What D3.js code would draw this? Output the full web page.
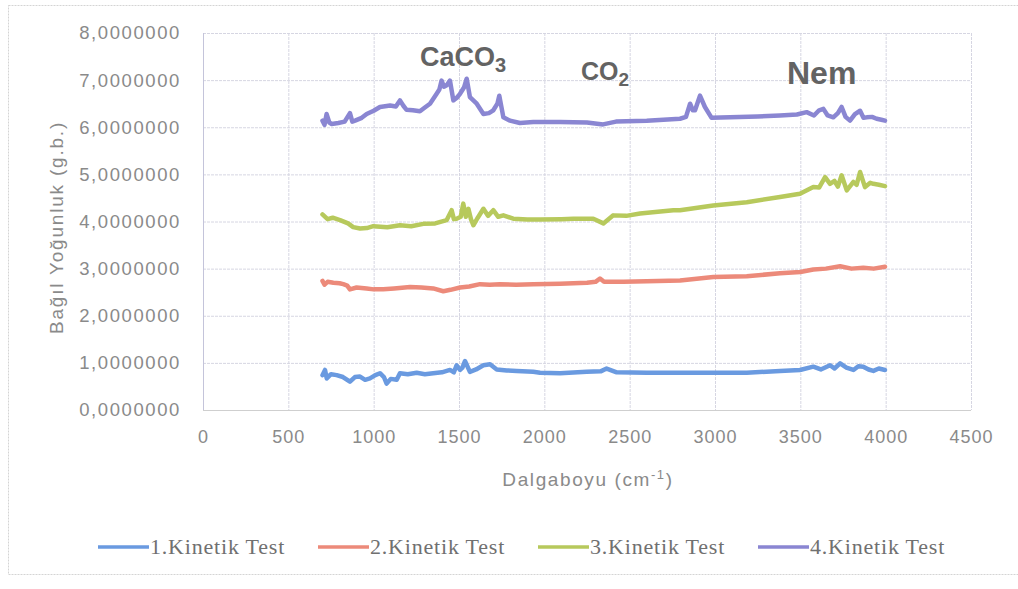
<!DOCTYPE html>
<html>
<head>
<meta charset="utf-8">
<script src="https://cdn.jsdelivr.net/npm/d3@7/dist/d3.min.js"></script>
<style>
  html, body { margin: 0; padding: 0; background: #ffffff; }
  svg { display: block; }
</style>
</head>
<body>
<svg id="chart" width="1018" height="589"></svg>
<script>
// ---- Data ----
const seriesNames = ["1.Kinetik Test", "2.Kinetik Test", "3.Kinetik Test", "4.Kinetik Test"];
const seriesColors = ["#6a9ae0", "#ec8a7a", "#b7c95c", "#8a86d2"];

const xTicks = [0, 500, 1000, 1500, 2000, 2500, 3000, 3500, 4000, 4500];
const yTicks = [0, 1, 2, 3, 4, 5, 6, 7, 8];

// [wavenumber, value]
const test1 = [
  [700, 0.74], [715, 0.85], [725, 0.67], [750, 0.76], [783, 0.74], [820, 0.70], [861, 0.60],
  [890, 0.70], [920, 0.71], [950, 0.64], [978, 0.67], [1010, 0.74], [1037, 0.78], [1060, 0.70],
  [1076, 0.56], [1100, 0.66], [1135, 0.64], [1154, 0.78], [1200, 0.76], [1252, 0.79], [1300, 0.76],
  [1349, 0.78], [1400, 0.80], [1447, 0.85], [1470, 0.80], [1486, 0.95], [1506, 0.85], [1520, 0.90],
  [1535, 1.04], [1564, 0.81], [1600, 0.86], [1643, 0.95], [1682, 0.97], [1721, 0.86], [1780, 0.84],
  [1838, 0.83], [1935, 0.81], [1975, 0.79], [2092, 0.78], [2248, 0.81], [2330, 0.82], [2365, 0.88],
  [2424, 0.80], [2600, 0.79], [2795, 0.79], [2990, 0.79], [3186, 0.79], [3381, 0.83], [3498, 0.85],
  [3576, 0.92], [3620, 0.86], [3674, 0.95], [3700, 0.88], [3733, 0.99], [3770, 0.90], [3811, 0.85],
  [3840, 0.93], [3869, 0.92], [3900, 0.86], [3928, 0.83], [3960, 0.88], [3996, 0.85]
];
const test2 = [
  [700, 2.74], [712, 2.66], [730, 2.72], [764, 2.70], [800, 2.69], [822, 2.67], [845, 2.64],
  [861, 2.56], [900, 2.60], [959, 2.58], [1000, 2.56], [1056, 2.56], [1120, 2.58], [1213, 2.61],
  [1280, 2.60], [1349, 2.58], [1408, 2.52], [1450, 2.55], [1506, 2.60], [1560, 2.62], [1623, 2.67],
  [1680, 2.66], [1740, 2.67], [1835, 2.66], [1935, 2.67], [2092, 2.68], [2250, 2.70], [2300, 2.72],
  [2326, 2.79], [2350, 2.72], [2463, 2.72], [2600, 2.73], [2795, 2.75], [2990, 2.82], [3186, 2.84],
  [3381, 2.90], [3500, 2.93], [3576, 2.98], [3650, 3.00], [3733, 3.05], [3800, 3.00], [3869, 3.02],
  [3930, 3.00], [3996, 3.04]
];
const test3 = [
  [700, 4.15], [730, 4.05], [760, 4.08], [803, 4.03], [850, 3.96], [880, 3.88], [920, 3.85],
  [960, 3.86], [998, 3.90], [1080, 3.88], [1154, 3.92], [1220, 3.90], [1291, 3.95], [1360, 3.96],
  [1428, 4.03], [1457, 4.24], [1470, 4.05], [1486, 4.06], [1510, 4.10], [1525, 4.38], [1540, 4.10],
  [1555, 4.27], [1570, 4.05], [1584, 3.92], [1610, 4.08], [1643, 4.27], [1670, 4.12], [1701, 4.24],
  [1730, 4.10], [1760, 4.13], [1818, 4.06], [1900, 4.04], [1975, 4.04], [2100, 4.05], [2170, 4.06],
  [2287, 4.06], [2346, 3.96], [2404, 4.13], [2480, 4.12], [2561, 4.17], [2650, 4.20], [2756, 4.24],
  [2795, 4.24], [2990, 4.34], [3186, 4.41], [3381, 4.52], [3498, 4.59], [3576, 4.73], [3610, 4.72],
  [3645, 4.94], [3674, 4.80], [3700, 4.86], [3720, 4.74], [3742, 4.98], [3772, 4.66], [3811, 4.84],
  [3830, 4.78], [3850, 5.05], [3879, 4.73], [3910, 4.82], [3928, 4.80], [3960, 4.78], [3996, 4.75]
];
const test4 = [
  [700, 6.14], [712, 6.05], [724, 6.28], [740, 6.10], [754, 6.07], [793, 6.09], [830, 6.12],
  [861, 6.30], [875, 6.12], [891, 6.14], [930, 6.20], [959, 6.28], [1000, 6.35], [1037, 6.43],
  [1096, 6.46], [1130, 6.44], [1154, 6.57], [1175, 6.45], [1193, 6.37], [1230, 6.36], [1271, 6.34],
  [1300, 6.42], [1330, 6.50], [1369, 6.71], [1385, 6.80], [1398, 6.99], [1412, 6.86], [1428, 6.89],
  [1447, 6.99], [1467, 6.57], [1486, 6.62], [1506, 6.71], [1530, 6.85], [1545, 7.03], [1564, 6.64],
  [1604, 6.50], [1643, 6.28], [1675, 6.30], [1701, 6.36], [1725, 6.50], [1736, 6.67], [1760, 6.21],
  [1799, 6.14], [1857, 6.09], [1935, 6.11], [2092, 6.11], [2250, 6.10], [2344, 6.06], [2420, 6.12],
  [2600, 6.14], [2795, 6.18], [2830, 6.22], [2854, 6.50], [2870, 6.36], [2883, 6.36], [2912, 6.67],
  [2941, 6.43], [2980, 6.20], [3088, 6.21], [3250, 6.23], [3381, 6.25], [3480, 6.27], [3537, 6.32],
  [3580, 6.25], [3610, 6.36], [3635, 6.39], [3660, 6.25], [3693, 6.21], [3720, 6.30], [3742, 6.43],
  [3765, 6.22], [3791, 6.14], [3820, 6.28], [3850, 6.35], [3870, 6.20], [3889, 6.21], [3920, 6.22],
  [3947, 6.18], [3975, 6.16], [3996, 6.14]
];
const seriesData = [test1, test2, test3, test4];

// ---- Layout ----
const svg = d3.select("#chart");
const plotL = 203, plotR = 971, plotT = 33, plotB = 410;

const x = d3.scaleLinear().domain([0, 4500]).range([plotL, plotR]);
const y = d3.scaleLinear().domain([0, 8]).range([plotB, plotT]);

// outer chart border
svg.append("rect")
  .attr("x", 8.5).attr("y", 5.5).attr("width", 1020).attr("height", 569)
  .attr("fill", "none").attr("stroke", "#d4d4d4").attr("stroke-width", 1)
  .attr("stroke-dasharray", "2,1");

// gridlines
const grid = svg.append("g");
grid.selectAll("line.h").data(yTicks).join("line")
  .attr("x1", plotL).attr("x2", plotR)
  .attr("y1", d => y(d) + 0.5).attr("y2", d => y(d) + 0.5)
  .attr("stroke", "#d6d6e2").attr("stroke-width", 1).attr("stroke-dasharray", "3,1");
grid.selectAll("line.v").data(xTicks).join("line")
  .attr("y1", plotT).attr("y2", plotB)
  .attr("x1", d => x(d) + 0.5).attr("x2", d => x(d) + 0.5)
  .attr("stroke", "#d6d6e2").attr("stroke-width", 1).attr("stroke-dasharray", "3,1");

// axes lines
svg.append("line").attr("x1", plotL + 0.5).attr("x2", plotL + 0.5).attr("y1", plotT).attr("y2", plotB)
  .attr("stroke", "#c4c4da");
svg.append("line").attr("x1", plotL).attr("x2", plotR).attr("y1", plotB + 0.5).attr("y2", plotB + 0.5)
  .attr("stroke", "#cfcfcf");

// axes via d3
const fmtY = d => d3.format(".7f")(d).replace(".", ",");
const yAxis = d3.axisLeft(y).tickValues(yTicks).tickFormat(fmtY).tickSize(0).tickPadding(22);
const gy = svg.append("g").attr("transform", `translate(${plotL},0)`).call(yAxis);
gy.select(".domain").remove();
gy.selectAll("text")
  .attr("font-family", "'Liberation Sans', Arial, sans-serif")
  .attr("font-size", 18.5).attr("letter-spacing", "1.6px").attr("fill", "#8a8a8a");

const xAxis = d3.axisBottom(x).tickValues(xTicks).tickFormat(d3.format("d")).tickSize(0).tickPadding(20);
const gx = svg.append("g").attr("transform", `translate(0,${plotB})`).call(xAxis);
gx.select(".domain").remove();
gx.selectAll("text")
  .attr("font-family", "'Liberation Sans', Arial, sans-serif")
  .attr("font-size", 18).attr("letter-spacing", "1px").attr("fill", "#8a8a8a");

// axis titles
const xt = svg.append("text").attr("x", 588).attr("y", 486).attr("text-anchor", "middle")
  .attr("font-family", "'Liberation Sans', Arial, sans-serif").attr("font-size", 19)
  .attr("letter-spacing", "1.6px").attr("fill", "#8a8a8a");
xt.append("tspan").text("Dalgaboyu (cm");
xt.append("tspan").attr("dy", -7).attr("font-size", 13).text("-1");
xt.append("tspan").attr("dy", 7).text(")");

svg.append("text")
  .attr("transform", `translate(63,${(plotT + plotB) / 2 + 6}) rotate(-90)`)
  .attr("text-anchor", "middle")
  .attr("font-family", "'Liberation Sans', Arial, sans-serif").attr("font-size", 19)
  .attr("letter-spacing", "1.8px").attr("fill", "#8a8a8a")
  .text("Bağıl Yoğunluk (g.b.)");

// series lines
const line = d3.line().x(d => x(d[0])).y(d => y(d[1])).curve(d3.curveLinear);
svg.append("g").selectAll("path").data(seriesData).join("path")
  .attr("d", line)
  .attr("fill", "none")
  .attr("stroke", (d, i) => seriesColors[i])
  .attr("stroke-width", 4.5)
  .attr("stroke-linejoin", "round")
  .attr("stroke-linecap", "round");

// annotations
const annFont = "'Liberation Sans', Arial, sans-serif";
const a1 = svg.append("text").attr("x", 420).attr("y", 66)
  .attr("font-family", annFont).attr("font-weight", "bold").attr("font-size", 27).attr("fill", "#636363");
a1.append("tspan").text("CaCO");
a1.append("tspan").attr("dy", 6).attr("font-size", 20).text("3");

const a2 = svg.append("text").attr("x", 581).attr("y", 80)
  .attr("font-family", annFont).attr("font-weight", "bold").attr("font-size", 25).attr("fill", "#636363");
a2.append("tspan").text("CO");
a2.append("tspan").attr("dy", 6).attr("font-size", 19).text("2");

svg.append("text").attr("x", 787).attr("y", 84)
  .attr("font-family", annFont).attr("font-weight", "bold").attr("font-size", 32).attr("fill", "#636363")
  .text("Nem");

// legend
const legX = [98, 318, 538, 758];
const leg = svg.append("g").selectAll("g").data(seriesNames).join("g")
  .attr("transform", (d, i) => `translate(${legX[i]},547)`);
leg.append("line").attr("x1", 0).attr("x2", 51).attr("y1", 0).attr("y2", 0)
  .attr("stroke", (d, i) => seriesColors[i]).attr("stroke-width", 3.5);
leg.append("text").attr("x", 52).attr("y", 7)
  .attr("font-family", "'Liberation Serif', 'Times New Roman', serif")
  .attr("font-size", 22).attr("letter-spacing", "0.8px").attr("fill", "#707070")
  .text(d => d);
</script>
</body>
</html>
